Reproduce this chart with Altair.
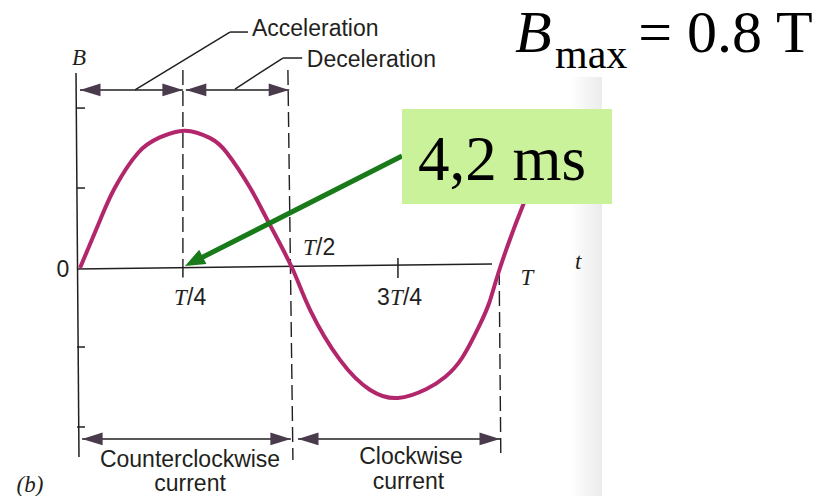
import altair as alt
import pandas as pd

# ---------------- data (t in units of the period T, B in units of B_max) ----------------
CURVE_T = [0, 0.048, 0.083, 0.138, 0.19, 0.25, 0.31, 0.35, 0.405, 0.45, 0.505,
           0.548, 0.619, 0.69, 0.757, 0.825, 0.87, 0.91, 0.95, 0.975, 1.0, 1.055, 1.12]
CURVE_B = [0, 0.353, 0.59, 0.846, 0.96, 1.01, 0.955, 0.846, 0.59, 0.33, 0,
           -0.309, -0.676, -0.895, -0.956, -0.89, -0.80, -0.66, -0.43, -0.25, 0, 0.463, 0.92]

# solid thin segments: axes, ticks, arrow shafts, leader lines
SEG_T1 = [-0.0095, -0.007, -0.007, -0.007, -0.007, -0.007, 0.757, 0.245,
          0.0, 0.252, 0.005, 0.519, 0.131, 0.357, 0.369, 0.483]
SEG_B1 = [1.434, -0.007, 1.176, 0.588, -0.581, -1.169, 0.074, 0.02,
          1.309, 1.309, -1.257, -1.257, 1.309, 1.735, 1.316, 1.544]
SEG_T2 = [-0.0024, 0.981, 0.012, 0.012, 0.012, 0.012, 0.757, 0.245,
          0.245, 0.498, 0.502, 1.0, 0.357, 0.40, 0.483, 0.529]
SEG_B2 = [-1.390, 0.029, 1.176, 0.588, -0.581, -1.169, -0.074, -0.07,
          1.309, 1.309, -1.257, -1.257, 1.735, 1.735, 1.544, 1.544]

# dashed guide lines at T/4, T/2, T
DASH_T1 = [0.245, 0.495, 0.998]
DASH_B1 = [1.456, 1.456, -0.015]
DASH_T2 = [0.245, 0.507, 1.002]
DASH_B2 = [0.02, -1.412, -1.404]

# arrowheads
HEAD_R_T = [0.245, 0.498, 0.502, 1.0]
HEAD_R_B = [1.309, 1.309, -1.257, -1.257]
HEAD_L_T = [0.0, 0.252, 0.005, 0.519]
HEAD_L_B = [1.309, 1.309, -1.257, -1.257]

# labels
SANS_LEFT_TEXT = ["Acceleration", "Deceleration", "/4", "/2", "3", "/4"]
SANS_LEFT_T = [0.4095, 0.540, 0.2548, 0.562, 0.707, 0.769]
SANS_LEFT_B = [1.757, 1.529, -0.221, 0.147, -0.221, -0.221]
SANS_CENTER_TEXT = ["Counterclockwise", "current", "Clockwise", "current", "0"]
SANS_CENTER_T = [0.262, 0.262, 0.788, 0.782, -0.0405]
SANS_CENTER_B = [-1.415, -1.59, -1.393, -1.575, -0.015]
ITAL_TEXT = ["B", "T", "t", "(b)"]
ITAL_T = [-0.0024, 1.064, 1.186, -0.119]
ITAL_B = [1.544, -0.074, 0.044, -1.595]
ITAL_LEFT_TEXT = ["T", "T", "T"]
ITAL_LEFT_T = [0.2238, 0.531, 0.738]
ITAL_LEFT_B = [-0.221, 0.147, -0.221]

# green callout
CALLOUT_T = [0.7667, 0.2786]
CALLOUT_B = [0.8235, 0.0588]
CALLOUT_TIP_T = [0.25]
CALLOUT_TIP_B = [0.0147]
BOX_T = [0.7667, 1.2667]
BOX_B = [1.169, 0.4706]
BOX_TEXT = ["4,2 ms"]
BOX_TEXT_T = [0.8048]
BOX_TEXT_B = [0.647]

# B_max = 0.8 T
BMAX_PARTS = ["B", "max", "= 0.8 T"]
BMAX_T = [1.036, 1.131, 1.329]
BMAX_B = [1.588, 1.4706, 1.588]

# scan edge shading
SCAN_T = [1.1667, 1.2429]
SCAN_B = [1.404, -1.70]

# ---------------- layout ----------------
W, H = 815, 488
X_DOMAIN = [(8 - 80) / 420, (823 - 80) / 420]
Y_DOMAIN = [(268 - 496) / 136, (268 - 8) / 136]
xs = alt.Scale(domain=X_DOMAIN, nice=False, zero=False)
ys = alt.Scale(domain=Y_DOMAIN, nice=False, zero=False)
INK = "#231f20"


def X(f):
    return alt.X(f"{f}:Q", scale=xs, axis=None)


def Y(f):
    return alt.Y(f"{f}:Q", scale=ys, axis=None)


def txt(df, **kw):
    return alt.Chart(df).mark_text(**kw).encode(x=X("t"), y=Y("b"), text="s:N")


scan = alt.Chart(pd.DataFrame({"t": [SCAN_T[0]], "t2": [SCAN_T[1]],
                               "b": [SCAN_B[0]], "b2": [SCAN_B[1]]})).mark_rect(
    color=alt.Gradient(gradient="linear",
                       stops=[alt.GradientStop(offset=0, color="#ffffff"),
                              alt.GradientStop(offset=1, color="#ebebeb")],
                       x1=0, x2=1, y1=0, y2=0)
).encode(x=X("t"), x2="t2:Q", y=Y("b"), y2="b2:Q")

segs = alt.Chart(pd.DataFrame({"t": SEG_T1, "b": SEG_B1, "t2": SEG_T2, "b2": SEG_B2})).mark_rule(
    color=INK, strokeWidth=1.5
).encode(x=X("t"), y=Y("b"), x2="t2:Q", y2="b2:Q")

dashes = alt.Chart(pd.DataFrame({"t": DASH_T1, "b": DASH_B1, "t2": DASH_T2, "b2": DASH_B2})).mark_rule(
    color=INK, strokeWidth=1.4, strokeDash=[15, 6]
).encode(x=X("t"), y=Y("b"), x2="t2:Q", y2="b2:Q")

curve = alt.Chart(pd.DataFrame({"t": CURVE_T, "b": CURVE_B})).mark_line(
    color="#b2276c", strokeWidth=4, interpolate="natural"
).encode(x=X("t"), y=Y("b"), order="t:Q")

head_r = alt.Chart(pd.DataFrame({"t": HEAD_R_T, "b": HEAD_R_B})).mark_point(
    shape="M0,0L-2,-0.62L-2,0.62Z", filled=True, size=420, color="#4a3b4c", opacity=1
).encode(x=X("t"), y=Y("b"))

head_l = alt.Chart(pd.DataFrame({"t": HEAD_L_T, "b": HEAD_L_B})).mark_point(
    shape="M0,0L2,-0.62L2,0.62Z", filled=True, size=420, color="#4a3b4c", opacity=1
).encode(x=X("t"), y=Y("b"))

sans_left = txt(pd.DataFrame({"t": SANS_LEFT_T, "b": SANS_LEFT_B, "s": SANS_LEFT_TEXT}),
                font="Liberation Sans", fontSize=23, align="left", baseline="middle", color=INK)
sans_center = txt(pd.DataFrame({"t": SANS_CENTER_T, "b": SANS_CENTER_B, "s": SANS_CENTER_TEXT}),
                  font="Liberation Sans", fontSize=23, align="center", baseline="middle", color=INK)
ital = txt(pd.DataFrame({"t": ITAL_T, "b": ITAL_B, "s": ITAL_TEXT}),
           font="Liberation Serif", fontSize=23, fontStyle="italic", align="center",
           baseline="middle", color=INK)
ital_left = txt(pd.DataFrame({"t": ITAL_LEFT_T, "b": ITAL_LEFT_B, "s": ITAL_LEFT_TEXT}),
                font="Liberation Serif", fontSize=23, fontStyle="italic", align="left",
                baseline="middle", color=INK)

callout_line = alt.Chart(pd.DataFrame({"t": [CALLOUT_T[0]], "b": [CALLOUT_B[0]],
                                       "t2": [CALLOUT_T[1]], "b2": [CALLOUT_B[1]]})).mark_rule(
    color="#187a18", strokeWidth=5
).encode(x=X("t"), y=Y("b"), x2="t2:Q", y2="b2:Q")

callout_head = alt.Chart(pd.DataFrame({"t": CALLOUT_TIP_T, "b": CALLOUT_TIP_B})).mark_point(
    shape="M0,0L-2,-0.8L-2,0.8Z", filled=True, size=400, color="#187a18", opacity=1, angle=153
).encode(x=X("t"), y=Y("b"))

box = alt.Chart(pd.DataFrame({"t": [BOX_T[0]], "t2": [BOX_T[1]],
                              "b": [BOX_B[0]], "b2": [BOX_B[1]]})).mark_rect(
    color="#c9f29b"
).encode(x=X("t"), x2="t2:Q", y=Y("b"), y2="b2:Q")

box_text = txt(pd.DataFrame({"t": BOX_TEXT_T, "b": BOX_TEXT_B, "s": BOX_TEXT}),
               font="Liberation Serif", fontSize=63, align="left", baseline="alphabetic",
               color="#000000")

bmax_df = pd.DataFrame({"t": BMAX_T, "b": BMAX_B, "s": BMAX_PARTS})
bmax_b = txt(bmax_df.iloc[[0]], font="Liberation Serif", fontSize=60, fontStyle="italic",
             align="left", baseline="alphabetic", color="#000000")
bmax_sub = txt(bmax_df.iloc[[1]], font="Liberation Serif", fontSize=42,
               align="left", baseline="alphabetic", color="#000000")
bmax_rest = txt(bmax_df.iloc[[2]], font="Liberation Serif", fontSize=60,
                align="left", baseline="alphabetic", color="#000000")

chart = alt.layer(
    scan, dashes, segs, curve, head_r, head_l, sans_left, sans_center, ital, ital_left,
    callout_line, callout_head, box, box_text, bmax_b, bmax_sub, bmax_rest
).properties(
    width=W, height=H, padding=0, autosize=alt.AutoSizeParams(type="none"),
    background="white"
).configure_view(stroke=None)

chart.save("out.html", embed_options={"renderer": "svg", "actions": False})
